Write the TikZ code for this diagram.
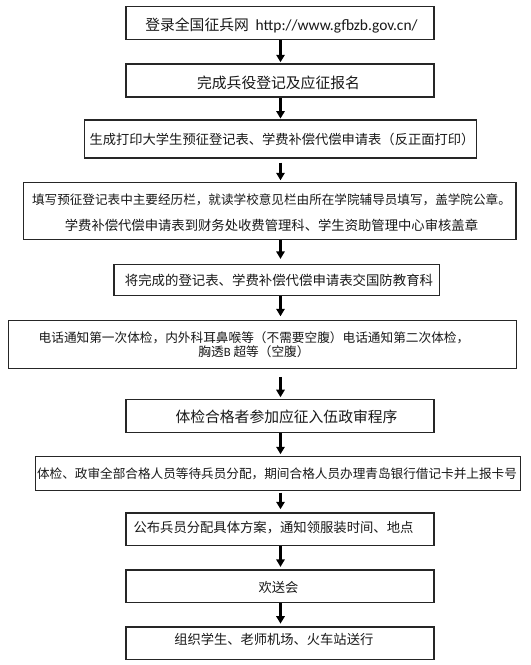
\documentclass[tikz,border=0pt]{standalone}
\usepackage{fontspec}
\setmainfont{Carlito}
\newfontfamily\cjk{Noto Sans CJK SC}
\newfontfamily\lat{Carlito}
\usetikzlibrary{arrows.meta,calc}
\begin{document}
\begin{tikzpicture}[x=0.75pt,y=-0.75pt,
  box/.style={draw=black!85,line width=1.1pt,inner sep=0pt,fill=white},
  txt/.style={inner sep=0pt,text=black!90,align=center},
  big/.style={font=\cjk\fontsize{11.1}{13}\selectfont},
  mid/.style={font=\cjk\fontsize{9.95}{12}\selectfont},
  arr/.style={line width=1.9pt,-{Triangle[width=6.2pt,length=5.6pt]}}]
\useasboundingbox (0,0) rectangle (531,665);
\coordinate (ax) at (280.5,0);
% boxes
\node[box,minimum width=231pt,minimum height=24.75pt] (b1) at (280,23) {};
\node[box,minimum width=231pt,minimum height=24.75pt] (b2) at (280,80.5) {};
\node[box,minimum width=294pt,minimum height=28.35pt] (b3) at (280.5,138.9) {};
\node[box,minimum width=369.2pt,minimum height=42.6pt] (b4) at (269.85,210.9) {};
\node[box,minimum width=244.1pt,minimum height=23.3pt] (b5) at (276.65,280.15) {};
\node[box,minimum width=381pt,minimum height=36.15pt] (b6) at (262.5,344.6) {};
\node[box,minimum width=231pt,minimum height=24.4pt] (b7) at (280,416) {};
\node[box,minimum width=363.75pt,minimum height=25.35pt] (b8) at (278,473.5) {};
\node[box,minimum width=231pt,minimum height=24.6pt] (b9) at (280,529.2) {};
\node[box,minimum width=231pt,minimum height=24.3pt] (b10) at (280,586.2) {};
\node[box,minimum width=231pt,minimum height=24.5pt] (b11) at (280,643.15) {};
% texts
\node[txt,big] (t1) at (281.5,25.5) {登录全国征兵网\hspace{5pt}{\lat\fontsize{11.6}{13}\selectfont http://www.gfbzb.gov.cn/}};
\node[txt,big] (t2) at (278.5,82.5) {完成兵役登记及应征报名};
\node[txt,mid] (t3) at (282,139.3) {生成打印大学生预征登记表、学费补偿代偿申请表（反正面打印）};
\node[txt,font=\cjk\fontsize{9.45}{12}\selectfont] (t4a) at (271.5,199.7) {填写预征登记表中主要经历栏，就读学校意见栏由所在学院辅导员填写，盖学院公章。};
\node[txt,font=\cjk\fontsize{10}{12}\selectfont] (t4b) at (271.5,225.8) {学费补偿代偿申请表到财务处收费管理科、学生资助管理中心审核盖章};
\node[txt,font=\cjk\fontsize{10.05}{12}\selectfont] (t5) at (279,280) {将完成的登记表、学费补偿代偿申请表交国防教育科};
\node[txt,font=\cjk\fontsize{9.5}{10.9}\selectfont] (t6) at (254,344.5) {电话通知第一次体检，内外科耳鼻喉等（不需要空腹）电话通知第二次体检，\\胸透{\lat B} 超等（空腹）};
\node[txt,big] (t7) at (286.5,417) {体检合格者参加应征入伍政审程序};
\node[txt,font=\cjk\fontsize{9.47}{12}\selectfont] (t8) at (277,474.2) {体检、政审全部合格人员等待兵员分配，期间合格人员办理青岛银行借记卡并上报卡号};
\node[txt,font=\cjk\fontsize{10}{12}\selectfont] (t9) at (273.5,527.5) {公布兵员分配具体方案，通知领服装时间、地点};
\node[txt,mid] (t10) at (278.5,587.2) {欢送会};
\node[txt,mid] (t11) at (273.8,639.5) {组织学生、老师机场、火车站送行};
% arrows
\draw[arr,shorten >=0.75pt] (b1.south -| ax) -- (b2.north -| ax);
\draw[arr,shorten >=0.5pt] (b2.south -| ax) -- (b3.north -| ax);
\draw[arr,shorten <=3pt,shorten >=1.1pt] (b3.south -| ax) -- (b4.north -| ax);
\draw[arr,shorten >=3.75pt] (b4.south -| ax) -- (b5.north -| ax);
\draw[arr,shorten >=2.6pt] (b5.south -| ax) -- (b6.north -| ax);
\draw[arr,shorten <=5.5pt,shorten >=1.35pt] (b6.south -| ax) -- (b7.north -| ax);
\draw[arr,shorten >=1.2pt] (b7.south -| ax) -- (b8.north -| ax);
\draw[arr,shorten <=1.2pt,shorten >=2.1pt] (b8.south -| ax) -- (b9.north -| ax);
\draw[arr,shorten >=1.8pt] (b9.south -| ax) -- (b10.north -| ax);
\draw[arr,shorten >=1.8pt] (b10.south -| ax) -- (b11.north -| ax);
\end{tikzpicture}
\end{document}
